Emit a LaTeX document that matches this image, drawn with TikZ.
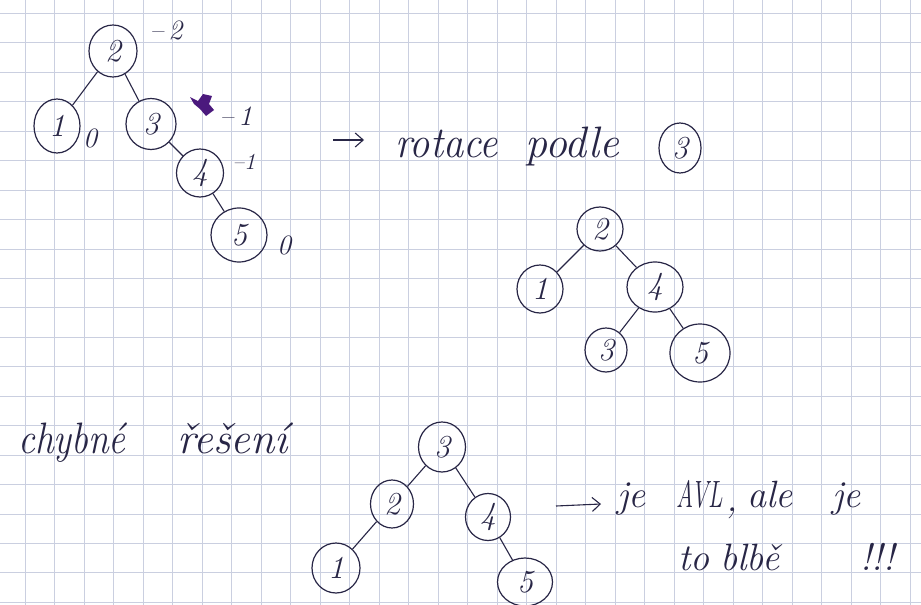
\documentclass[tikz,border=0pt]{standalone}
\usepackage{fontspec}
\usetikzlibrary{shapes.geometric,arrows.meta}
\definecolor{ink}{RGB}{40,38,70}
\definecolor{gridc}{RGB}{202,207,224}
\definecolor{purp}{RGB}{75,25,125}
\begin{document}
\begin{tikzpicture}[x=1pt,y=-1pt,
  tn/.style args={#1/#2}{ellipse, draw=ink, line width=1.2pt, minimum width=#1pt, minimum height=#2pt, inner sep=0pt, font=\fontsize{32}{32}\selectfont\itshape, text=ink},
  edge/.style={draw=ink, line width=1.1pt},
  hw/.style={font=\fontsize{44}{44}\selectfont\itshape, text=ink, inner sep=0pt, anchor=base west},
  hws/.style={font=\fontsize{38}{38}\selectfont\itshape, text=ink, inner sep=0pt, anchor=base west},
  lab/.style={font=\fontsize{28}{28}\selectfont\itshape, text=ink, inner sep=0pt},
  harrow/.style={draw=ink, line width=1.1pt, -{Straight Barb[length=8pt,width=14pt]}}
]
\useasboundingbox (0,0) rectangle (921,605);
\fill[white] (0,0) rectangle (921,605);
\foreach \i in {0,...,30} \draw[gridc, line width=0.8pt] (25+29.5*\i,0) -- (25+29.5*\i,605);
\foreach \j in {0,...,20} \draw[gridc, line width=0.8pt] (0,13.3+29.45*\j) -- (921,13.3+29.45*\j);

% tree 1
\node[tn=48/52] (a2) at (113,51) {2};
\node[tn=46/54] (a1) at (57,126) {1};
\node[tn=50/51] (a3) at (151,124) {3};
\node[tn=47/48] (a4) at (200,173) {4};
\node[tn=56/54] (a5) at (239,235) {5};
\draw[edge] (a2) -- (a1);
\draw[edge] (a2) -- (a3);
\draw[edge] (a3) -- (a4);
\draw[edge] (a4) -- (a5);
\node[lab] (la2) at (166,30) {\textendash\,2};
\node[lab] (la1) at (90,138) {0};
\node[lab] (la3) at (236,116) {\textendash\,1};
\node[lab, font=\fontsize{23}{23}\selectfont\itshape] (la4) at (244,162) {\textendash1};
\node[lab] (la5) at (284,245) {0};
\fill[purp] (190,97) -- (198,101) -- (203,94) -- (212,96) -- (209,104) -- (214,110) -- (206,116) -- (200,109) -- (194,104) -- cycle;

% rotation note
\coordinate (r0) at (333,140);
\coordinate (r1) at (364,140);
\draw[harrow] (r0) -- (r1);
\node[hw] (rot) at (395,157) {\scalebox{0.92}[1]{rotace}};
\node[hw] (pod) at (525,157) {podle};
\node[tn=42/50] (r3) at (680,148) {3};

% tree 2
\node[tn=46/44] (b2) at (600,229) {2};
\node[tn=46/48] (b1) at (540,289) {1};
\node[tn=56/50] (b4) at (655,287) {4};
\node[tn=42/44] (b3) at (606,350) {3};
\node[tn=60/58] (b5) at (700,353) {5};
\draw[edge] (b2) -- (b1);
\draw[edge] (b2) -- (b4);
\draw[edge] (b4) -- (b3);
\draw[edge] (b4) -- (b5);

% wrong solution
\node[hw] (ch) at (18,453) {\scalebox{0.85}[1]{chybné}};
\node[hw] (re) at (177,453) {řešení};

% tree 3
\node[tn=47/50] (c3) at (442,447) {3};
\node[tn=43/48] (c2) at (392,504) {2};
\node[tn=45/47] (c4) at (488,517) {4};
\node[tn=48/50] (c1) at (336,568) {1};
\node[tn=55/48] (c5) at (525,582) {5};
\draw[edge] (c3) -- (c2);
\draw[edge] (c3) -- (c4);
\draw[edge] (c2) -- (c1);
\draw[edge] (c4) -- (c5);

\coordinate (s0) at (556,506);
\coordinate (s1) at (601,504);
\draw[harrow] (s0) -- (s1);
\node[hws] (je1) at (617,507) {je};
\node[hws] (avl) at (676,507) {\scalebox{0.62}[1]{AVL}};
\node[hws] (cm) at (726,511) {,};
\node[hws] (ale) at (747,507) {ale};
\node[hws] (je2) at (832,507) {je};
\node[hws] (to) at (678,570) {to};
\node[hws] (blbe) at (720,570) {blbě};
\node[hws] (exc) at (860,570) {!!!};
\end{tikzpicture}
\end{document}
